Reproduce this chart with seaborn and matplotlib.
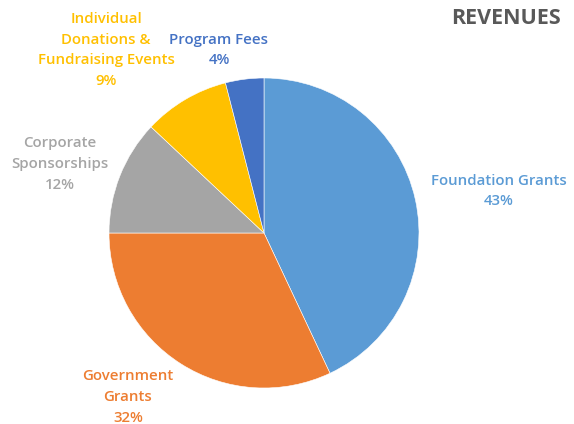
import matplotlib
matplotlib.use("Agg")
import matplotlib.pyplot as plt
import seaborn as sns

categories = ["Foundation Grants", "Government\nGrants", "Corporate\nSponsorships",
              "Individual\nDonations &\nFundraising Events", "Program Fees"]
values = [43, 32, 12, 9, 4]
colors = ["#5B9BD5", "#ED7D31", "#A5A5A5", "#FFC000", "#4472C4"]
label_colors = ["#5B9BD5", "#ED7D31", "#A5A5A5", "#FFC000", "#4472C4"]
title = "REVENUES"

sns.set_theme(style="white")
plt.rcParams["font.family"] = ["Open Sans", "DejaVu Sans"]

fig = plt.figure(figsize=(5.74, 4.24), dpi=100)
W, H = 574, 424
cx, cy, r = 264, 233, 155
ax = fig.add_axes([(cx - r) / W, (H - cy - r) / H, 2 * r / W, 2 * r / H])
wedges, _ = ax.pie(values, colors=colors, startangle=90, counterclock=False,
                   wedgeprops=dict(edgecolor="white", linewidth=0.4))
ax.set_xlim(-1, 1)
ax.set_ylim(-1, 1)
ax.set_aspect("equal")
ax.axis("off")

# label centres in pixel coordinates
label_pos = [(499, 191), (128, 397), (60, 164), (106, 50), (219, 50)]
for cat, v, col, (px, py) in zip(categories, values, label_colors, label_pos):
    fig.text(px / W, 1 - py / H, f"{cat}\n{v}%", color=col, ha="center", va="center",
             fontsize=10.8, fontweight="semibold", linespacing=1.6)

fig.text(506 / W, 1 - 19 / H, title, color="#595959", ha="center", va="center",
         fontsize=15.5, fontweight="bold")

fig.savefig("out.png", dpi=100)
